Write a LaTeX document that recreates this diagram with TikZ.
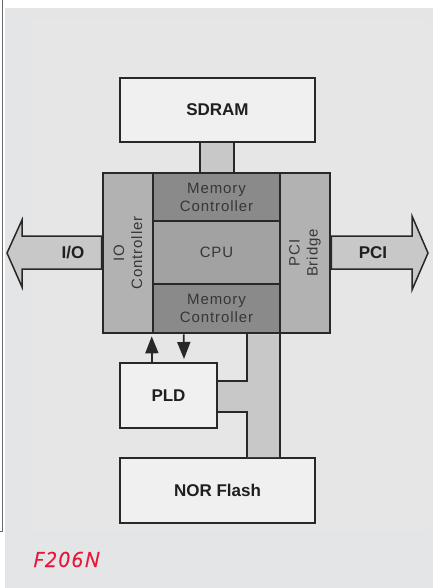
\documentclass[tikz,border=0pt]{standalone}
\usepackage{fontspec}
\setmainfont{Liberation Sans}
\newfontfamily\tagfont{Open Sans}
\usepackage{xcolor}
\definecolor{cPage}{RGB}{228,229,231}
\definecolor{cPanel}{RGB}{230,230,231}
\definecolor{cLine}{RGB}{40,40,40}
\definecolor{cFrame}{RGB}{105,105,105}
\definecolor{cBox}{RGB}{240,240,240}
\definecolor{cBus}{RGB}{200,200,200}
\definecolor{cSide}{RGB}{178,178,178}
\definecolor{cMem}{RGB}{138,138,138}
\definecolor{cCore}{RGB}{162,162,162}
\definecolor{cText}{RGB}{55,55,55}
\definecolor{cTag}{RGB}{232,22,58}
\usetikzlibrary{positioning, calc, arrows.meta}

\begin{document}
\begin{tikzpicture}[x=1pt, y=-1pt,
    box/.style={draw=cLine, line width=2pt, fill=cBox, inner sep=0pt,
      font=\fontsize{17}{20}\selectfont\bfseries, text=black!88},
    part/.style={draw=cLine, line width=1.6pt, inner sep=0pt, align=center,
      font=\fontsize{15}{18}\selectfont\addfontfeature{LetterSpace=6}, text=cText},
    bus/.style={fill=cBus},
    edge/.style={draw=cLine, line width=1.8pt},
    ar/.style={edge, -{Triangle[length=17pt,width=13pt]}},
    tag/.style={font={\tagfont\itshape\fontsize{21}{25}\selectfont\addfontfeature{LetterSpace=8,FakeBold=0.6}},
      text=cTag}]

    % ---------- page ----------
    \useasboundingbox (0,0) rectangle (433,588);
    \fill[cPage] (5,8) rectangle (433,588);
    \fill[cPanel] (30,20) rectangle (430,531);
    \draw[cFrame, line width=1pt] (2.5,0) -- (2.5,531) -- (0,531);

    % ---------- memory ----------
    \node[box, minimum width=195pt, minimum height=64pt] (sdram) at (217.5,110) {SDRAM};

    % ---------- processor ----------
    \node[part, fill=cSide, rotate=90, minimum width=160pt, minimum height=50pt]
      (io) at (128,253) {IO\\Controller};
    \node[part, fill=cMem, minimum width=127pt, minimum height=48pt]
      (mcTop) at (216.5,197) {Memory\\Controller};
    \node[part, fill=cCore, minimum width=127pt, minimum height=63pt]
      (cpu) at (216.5,252.5) {CPU};
    \node[part, fill=cMem, minimum width=127pt, minimum height=49pt]
      (mcBot) at (216.5,308.5) {Memory\\Controller};
    \node[part, fill=cSide, rotate=90, minimum width=160pt, minimum height=50pt]
      (pci) at (305,253) {PCI\\Bridge};
    \node[draw=cLine, line width=2.6pt, minimum width=227pt, minimum height=160pt]
      (soc) at (216.5,253) {};

    % ---------- sdram link ----------
    \coordinate (memL) at ($(sdram.south)+(-17.5,0)$);
    \coordinate (memR) at ($(sdram.south)+(16.5,0)$);
    \fill[bus] (memL) rectangle (memR |- soc.north);
    \draw[edge] (memL) -- (memL |- soc.north);
    \draw[edge] (memR) -- (memR |- soc.north);

    % ---------- external buses ----------
    \path[bus, edge, line width=1.5pt] (soc.west |- 0,236) -- (22,236) -- (22,220)
      -- (7,253) -- (22,287) -- (22,269) -- (soc.west |- 0,269) -- cycle;
    \node[font=\fontsize{17}{20}\selectfont\bfseries, text=black!88] (ioBus) at (73,253) {I/O};
    \path[bus, edge, line width=1.5pt] (soc.east |- 0,236) -- (412,236) -- (412,216)
      -- (428,253) -- (412,290) -- (412,269) -- (soc.east |- 0,269) -- cycle;
    \node[font=\fontsize{17}{20}\selectfont\bfseries, text=black!88] (pciBus) at (373,253) {PCI};

    % ---------- local devices ----------
    \node[box, minimum width=97pt, minimum height=65pt] (pld) at (168.5,395.5) {PLD};
    \node[box, minimum width=195pt, minimum height=65pt] (nor) at (217.5,490.5) {NOR Flash};

    % ---------- flash bus ----------
    \coordinate (busTL) at ($(soc.south west)+(145,0)$);
    \coordinate (busTR) at ($(soc.south west)+(178,0)$);
    \coordinate (busBL) at (busTL |- nor.north);
    \coordinate (busBR) at (busTR |- nor.north);
    \coordinate (tapT) at ($(pld.east)+(0,-14.5)$);
    \coordinate (tapB) at ($(pld.east)+(0,16.5)$);
    \fill[bus] (busTL) -- (busTR) -- (busBR) -- (busBL) -- (busBL |- tapB) -- (tapB)
      -- (tapT) -- (busTL |- tapT) -- cycle;
    \draw[edge] (busTL) -- (busTL |- tapT) -- (tapT);
    \draw[edge] (tapB) -- (busBL |- tapB) -- (busBL);
    \draw[edge] (busTR) -- (busBR);

    % ---------- control lines ----------
    \draw[ar] ($(pld.north west)+(33,0)$) -- ($(soc.south west)+(50,2)$);
    \draw[ar] ($(soc.south west)+(82,0)$) -- ($(pld.north west)+(65,-3)$);

    % ---------- figure tag ----------
    \node[tag, anchor=base west, inner sep=0pt] (figTag) at (33,567) {F206N};

\end{tikzpicture}
\end{document}
